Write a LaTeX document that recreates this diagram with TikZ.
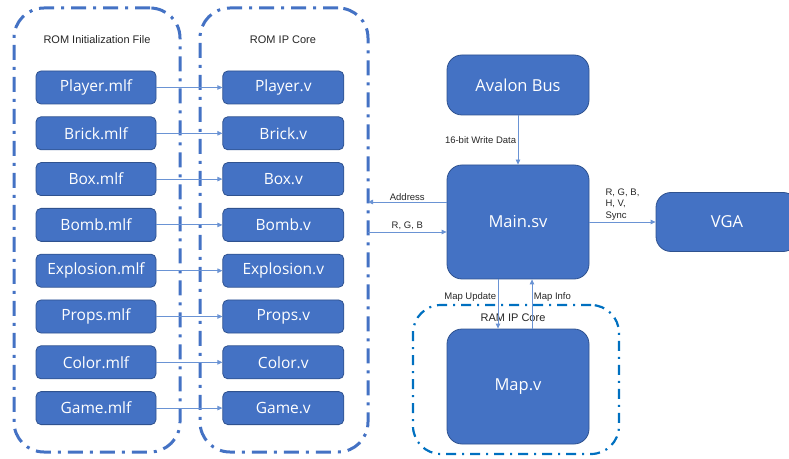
\documentclass[tikz,border=0pt]{standalone}
\usepackage{fontspec}
\setmainfont{Open Sans}
\newfontfamily\lblfont{Liberation Sans}
\usepackage{tikz}
\usetikzlibrary{positioning,fit,arrows.meta}
\definecolor{boxfill}{HTML}{4472C4}
\definecolor{boxedge}{HTML}{2F528F}
\definecolor{linkblue}{HTML}{6A93D4}
\definecolor{romblue}{HTML}{4472C4}
\definecolor{ramblue}{HTML}{0070C0}
\tikzstyle{initfile}=[rectangle,rounded corners=5pt,fill=boxfill,draw=boxedge,line width=0.8pt,minimum width=120pt,minimum height=33pt,inner sep=0pt,text=white,font=\fontsize{15.5}{18}\selectfont]
\tikzstyle{ipcore}=[initfile,minimum width=121pt]
\tikzstyle{module}=[initfile,rounded corners=15pt,minimum width=142pt,font=\fontsize{16.5}{20}\selectfont]
\tikzstyle{romframe}=[draw=romblue,line width=3pt,rounded corners=30pt,dash pattern=on 15pt off 7pt on 3pt off 7pt,inner sep=0pt]
\tikzstyle{ramframe}=[draw=ramblue,line width=2.2pt,rounded corners=28pt,dash pattern=on 10pt off 6pt on 2pt off 6pt,inner sep=0pt]
\tikzstyle{framehead}=[font=\lblfont\fontsize{11}{13}\selectfont,text=black!85]
\tikzstyle{lbl}=[font=\lblfont\fontsize{9.5}{11.5}\selectfont,text=black!85,inner sep=1.5pt]
\tikzstyle{link}=[draw=linkblue,line width=0.8pt,-{Triangle[length=5pt,width=4.5pt]}]

\begin{document}
\begin{tikzpicture}[x=1pt,y=1pt,node distance=12pt]
        \useasboundingbox (0,0) rectangle (789,458);

        % dash-dot frames round the ROM parts and the RAM
        \node[romframe,fit={(14,6) (180,450)}] (romfile) {};
        \node[romframe,fit={(200,6) (368,450)}] (romcore) {};
        \node[ramframe,fit={(413,4) (619,153)}] (ramcore) {};
        \node[framehead] (romfilehead) at (97,418) {ROM Initialization File};
        \node[framehead] (romcorehead) at (283,418) {ROM IP Core};
        \node[framehead] (ramcorehead) at (513,140) {RAM IP Core};

        % .mlf files
        \node[initfile] (playermlf) at (96,370.5) {Player.mlf};
        \node[initfile,below=of playermlf] (brickmlf) {Brick.mlf};
        \node[initfile,below=of brickmlf] (boxmlf) {Box.mlf};
        \node[initfile,below=of boxmlf] (bombmlf) {Bomb.mlf};
        \node[initfile,below=of bombmlf] (explmlf) {Explosion.mlf};
        \node[initfile,below=of explmlf] (propsmlf) {Props.mlf};
        \node[initfile,below=of propsmlf] (colormlf) {Color.mlf};
        \node[initfile,below=of colormlf] (gamemlf) {Game.mlf};

        % ROM cores
        \node[ipcore,right=66pt of playermlf] (playerv) {Player.v};
        \node[ipcore,below=of playerv] (brickv) {Brick.v};
        \node[ipcore,below=of brickv] (boxv) {Box.v};
        \node[ipcore,below=of boxv] (bombv) {Bomb.v};
        \node[ipcore,below=of bombv] (explv) {Explosion.v};
        \node[ipcore,below=of explv] (propsv) {Props.v};
        \node[ipcore,below=of propsv] (colorv) {Color.v};
        \node[ipcore,below=of colorv] (gamev) {Game.v};

        % top level
        \node[module,minimum height=114pt] (main) at (518,236) {Main.sv};
        \node[module,minimum height=60pt] (avalon) at (518,373) {Avalon Bus};
        \node[module,minimum height=59pt] (vga) at (727,236) {VGA};
        \node[module,minimum height=115pt] (map) at (518,71.5) {Map.v};

        \draw[link] (playermlf) -- (playerv);
        \draw[link] (brickmlf) -- (brickv);
        \draw[link] (boxmlf) -- (boxv);
        \draw[link] (bombmlf) -- (bombv);
        \draw[link] (explmlf) -- (explv);
        \draw[link] (propsmlf) -- (propsv);
        \draw[link] (colormlf) -- (colorv);
        \draw[link] (gamemlf) -- (gamev);

        \coordinate (addr) at (368,256);
        \coordinate (rgbin) at (368,226);
        \coordinate (upd) at (498,0);
        \coordinate (info) at (532,0);

        \draw[link] (avalon) -- node[lbl,left]{16-bit Write Data} (main);
        \draw[link] (main.west |- addr) -- node[lbl,above]{Address} (addr);
        \draw[link] (rgbin) -- node[lbl,above]{R, G, B} (rgbin -| main.west);
        \draw[link] (main) -- node[lbl,above,align=left]{R, G, B,\\H, V,\\Sync} (vga);
        \draw[link] (upd |- main.south) -- node[lbl,left,pos=0.35]{Map Update} (upd |- map.north);
        \draw[link] (info |- map.north) -- node[lbl,right,pos=0.65]{Map Info} (info |- main.south);
\end{tikzpicture}
\end{document}
